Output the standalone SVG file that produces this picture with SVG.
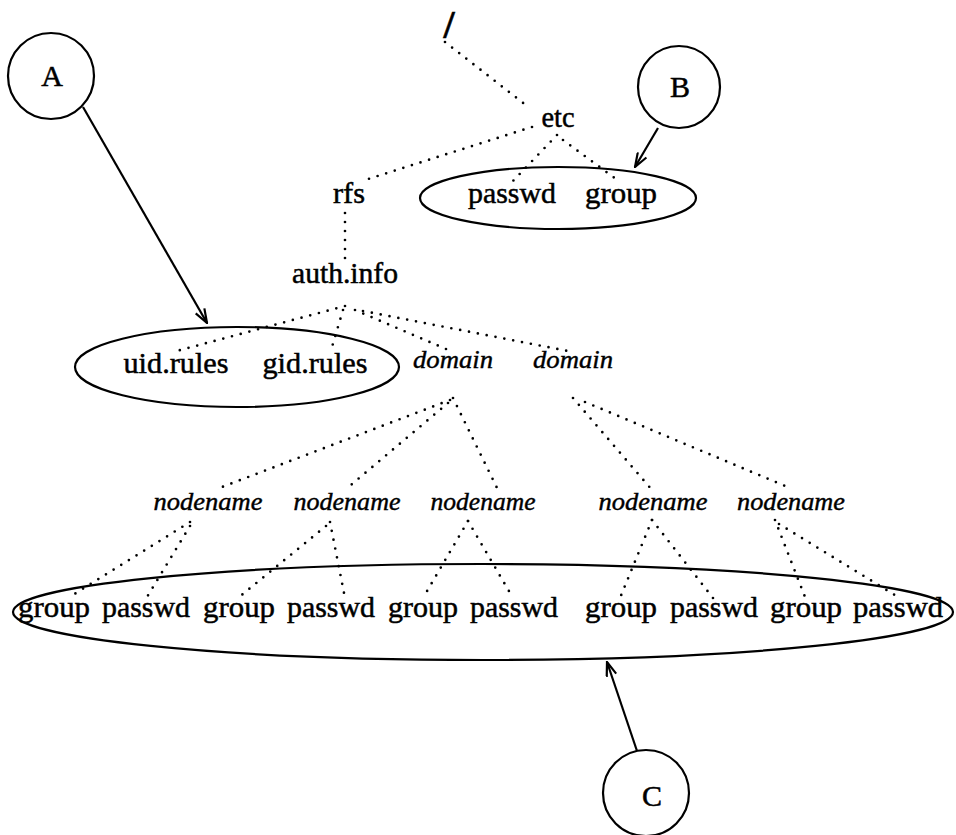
<svg xmlns="http://www.w3.org/2000/svg" width="956" height="835" viewBox="0 0 956 835">
  <style>
    .bg { fill: #ffffff; }
    .ring { fill: none; stroke: #000; stroke-width: 2.2; }
    .pointer { fill: none; stroke: #000; stroke-width: 2.2; }
    .dots { fill: none; stroke: #000; stroke-width: 2.7; stroke-linecap: round; stroke-dasharray: 0 9; }
    .lbl { font-family: "Liberation Serif", "DejaVu Serif", serif; font-size: 30px; fill: #000; stroke: #000; stroke-width: 0.5; text-anchor: middle; }
    .ital { font-family: "Liberation Serif", "DejaVu Serif", serif; font-style: italic; font-size: 25px; fill: #000; stroke: #000; stroke-width: 0.4; text-anchor: middle; }
    .tag { font-family: "Liberation Serif", "DejaVu Serif", serif; font-size: 30px; fill: #000; stroke: #000; stroke-width: 0.5; text-anchor: middle; }
  </style>
  <defs>
    <marker id="vhead" viewBox="0 0 16 12" refX="15" refY="6" markerWidth="16" markerHeight="12" markerUnits="userSpaceOnUse" orient="auto">
      <path d="M1,1 L15,6 L1,11" fill="none" stroke="#000" stroke-width="2.2"/>
    </marker>
  </defs>
  <rect class="bg" x="0" y="0" width="956" height="835"/>

  <!-- dotted tree edges and pointer arrows -->
  <g id="connectors">
    <line class="dots" x1="445" y1="42" x2="527" y2="106"/>
    <line class="dots" x1="532" y1="127" x2="365" y2="180"/>
    <line class="dots" x1="557" y1="135" x2="512" y2="182"/>
    <line class="dots" x1="563" y1="140" x2="620" y2="182"/>
    <line class="dots" x1="345" y1="213" x2="345" y2="260"/>
    <line class="dots" x1="345" y1="306" x2="173" y2="352"/>
    <line class="dots" x1="343" y1="310" x2="332" y2="347"/>
    <line class="dots" x1="355" y1="310" x2="453" y2="352"/>
    <line class="dots" x1="363" y1="311" x2="573" y2="352"/>
    <line class="dots" x1="450" y1="400" x2="222" y2="487"/>
    <line class="dots" x1="448" y1="403" x2="345" y2="490"/>
    <line class="dots" x1="453" y1="398" x2="498" y2="490"/>
    <line class="dots" x1="573" y1="398" x2="652" y2="490"/>
    <line class="dots" x1="585" y1="402" x2="790" y2="488"/>
    <line class="dots" x1="190" y1="522" x2="68" y2="598"/>
    <line class="dots" x1="190" y1="526" x2="147" y2="597"/>
    <line class="dots" x1="326" y1="526" x2="238" y2="598"/>
    <line class="dots" x1="330" y1="522" x2="345" y2="598"/>
    <line class="dots" x1="468" y1="521" x2="423" y2="598"/>
    <line class="dots" x1="468" y1="521" x2="513" y2="598"/>
    <line class="dots" x1="652" y1="520" x2="620" y2="598"/>
    <line class="dots" x1="652" y1="520" x2="713" y2="598"/>
    <line class="dots" x1="775" y1="520" x2="805" y2="597"/>
    <line class="dots" x1="779" y1="524" x2="898" y2="597"/>
    <line class="pointer" x1="83" y1="107" x2="207" y2="323" marker-end="url(#vhead)"/>
    <line class="pointer" x1="658" y1="128" x2="635" y2="167" marker-end="url(#vhead)"/>
    <line class="pointer" x1="637" y1="751" x2="607" y2="662" marker-end="url(#vhead)"/>
  </g>

  <g id="callout-a">
    <circle class="ring" cx="51" cy="76" r="43"/>
    <text class="tag" x="52" y="86">A</text>
  </g>
  <g id="callout-b">
    <circle class="ring" cx="679" cy="87" r="41"/>
    <text class="tag" x="680" y="97">B</text>
  </g>
  <g id="callout-c">
    <circle class="ring" cx="646" cy="793" r="43"/>
    <text class="tag" x="652" y="806">C</text>
  </g>

  <g id="root">
    <text class="lbl" x="449" y="38" style="font-size:40px;font-weight:bold">/</text>
  </g>
  <g id="etc">
    <text class="lbl" x="558" y="127" textLength="33" lengthAdjust="spacingAndGlyphs">etc</text>
  </g>
  <g id="etc-files">
    <ellipse class="ring" cx="558" cy="198" rx="138" ry="31"/>
    <text class="lbl" x="512" y="203" textLength="88" lengthAdjust="spacingAndGlyphs">passwd</text>
    <text class="lbl" x="621" y="203" textLength="72" lengthAdjust="spacingAndGlyphs">group</text>
  </g>
  <g id="rfs">
    <text class="lbl" x="349" y="203" textLength="32" lengthAdjust="spacingAndGlyphs">rfs</text>
  </g>
  <g id="auth-info">
    <text class="lbl" x="345" y="283" textLength="106" lengthAdjust="spacingAndGlyphs">auth.info</text>
  </g>
  <g id="rules">
    <ellipse class="ring" cx="237" cy="367" rx="162" ry="40"/>
    <text class="lbl" x="176" y="373" textLength="105" lengthAdjust="spacingAndGlyphs">uid.rules</text>
    <text class="lbl" x="315" y="373" textLength="105" lengthAdjust="spacingAndGlyphs">gid.rules</text>
  </g>
  <g id="domain-1">
    <text class="ital" x="453" y="368" textLength="80" lengthAdjust="spacingAndGlyphs">domain</text>
  </g>
  <g id="domain-2">
    <text class="ital" x="573" y="368" textLength="80" lengthAdjust="spacingAndGlyphs">domain</text>
  </g>
  <g id="nodenames">
    <text class="ital" x="208" y="510" textLength="109" lengthAdjust="spacingAndGlyphs">nodename</text>
    <text class="ital" x="347" y="510" textLength="107" lengthAdjust="spacingAndGlyphs">nodename</text>
    <text class="ital" x="483" y="510" textLength="105" lengthAdjust="spacingAndGlyphs">nodename</text>
    <text class="ital" x="653" y="510" textLength="109" lengthAdjust="spacingAndGlyphs">nodename</text>
    <text class="ital" x="791" y="510" textLength="108" lengthAdjust="spacingAndGlyphs">nodename</text>
  </g>
  <g id="node-files">
    <ellipse class="ring" cx="483" cy="612" rx="470" ry="48"/>
    <text class="lbl" x="54" y="617" textLength="72" lengthAdjust="spacingAndGlyphs">group</text>
    <text class="lbl" x="146" y="617" textLength="88" lengthAdjust="spacingAndGlyphs">passwd</text>
    <text class="lbl" x="239" y="617" textLength="72" lengthAdjust="spacingAndGlyphs">group</text>
    <text class="lbl" x="331" y="617" textLength="88" lengthAdjust="spacingAndGlyphs">passwd</text>
    <text class="lbl" x="423" y="617" textLength="70" lengthAdjust="spacingAndGlyphs">group</text>
    <text class="lbl" x="514" y="617" textLength="88" lengthAdjust="spacingAndGlyphs">passwd</text>
    <text class="lbl" x="621" y="617" textLength="72" lengthAdjust="spacingAndGlyphs">group</text>
    <text class="lbl" x="714" y="617" textLength="88" lengthAdjust="spacingAndGlyphs">passwd</text>
    <text class="lbl" x="806" y="617" textLength="72" lengthAdjust="spacingAndGlyphs">group</text>
    <text class="lbl" x="898" y="617" textLength="90" lengthAdjust="spacingAndGlyphs">passwd</text>
  </g>
</svg>
